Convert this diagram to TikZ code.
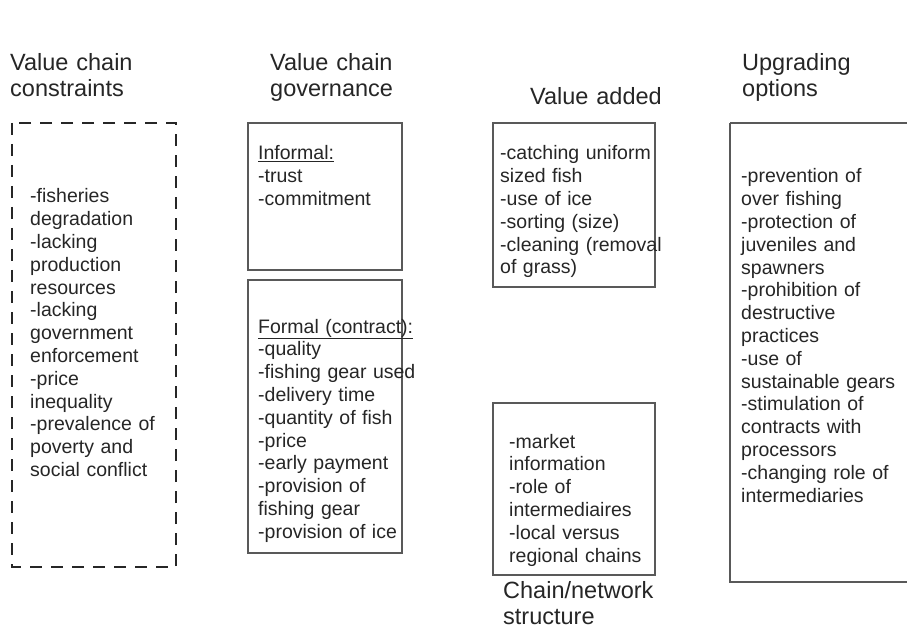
\documentclass[tikz,border=0pt]{standalone}
\usepackage{fontspec}
\setmainfont{Liberation Sans}
\begin{document}
\begin{tikzpicture}[x=1pt,y=-1pt,
  head/.style={anchor=base west,inner sep=0pt,text width=200pt,align=left,
    font=\fontsize{23.5}{26}\selectfont,text=black!85},
  body/.style={anchor=base west,inner sep=0pt,text width=180pt,align=left,
    font=\fontsize{19.5}{22.8}\selectfont,text=black!85},
  panel/.style={draw=black!65,line width=1.2pt},
  dashpanel/.style={draw=black!85,line width=2.6pt,dash pattern=on 12pt off 9pt}]
\useasboundingbox[fill=white] (0,0) rectangle (907,644);

% column headings
\node[head] (h1) at (10,71) {Value chain\\constraints};
\node[head] (h2) at (270,71) {Value chain\\governance};
\node[head] (h3) at (530,105) {Value added};
\node[head] (h4) at (742,71) {Upgrading\\options};
\node[head] (h5) at (503,598) {Chain/network\\structure};

% constraints
\draw[dashpanel] (12,123) rectangle (176,567);
\node[body] (c1) at (30,203) {-fisheries\\degradation\\-lacking\\production\\resources\\-lacking\\government\\enforcement\\-price\\inequality\\-prevalence of\\poverty and\\social conflict};

% governance
\draw[panel] (248,123) rectangle (402,270);
\node[body] (g1) at (258,160) {\underline{Informal:}\\-trust\\-commitment};
\draw[panel] (248,280) rectangle (402,553);
\node[body] (g2) at (258,333) {\underline{Formal (contract):}\\-quality\\-fishing gear used\\-delivery time\\-quantity of fish\\-price\\-early payment\\-provision of\\fishing gear\\-provision of ice};

% value added
\draw[panel] (493,123) rectangle (655,287);
\node[body] (v1) at (500,160) {-catching uniform\\sized fish\\-use of ice\\-sorting (size)\\-cleaning (removal\\of grass)};

% chain structure
\draw[panel] (493,403) rectangle (655,575);
\node[body] (s1) at (509,448) {-market\\information\\-role of\\intermediaires\\-local versus\\regional chains};

% upgrading options
\draw[panel] (730,123) -- (915,123) (730,123) -- (730,582) -- (915,582);
\node[body] (u1) at (741,183) {-prevention of\\over fishing\\-protection of\\juveniles and\\spawners\\-prohibition of\\destructive\\practices\\-use of\\sustainable gears\\-stimulation of\\contracts with\\processors\\-changing role of\\intermediaries};
\end{tikzpicture}
\end{document}
